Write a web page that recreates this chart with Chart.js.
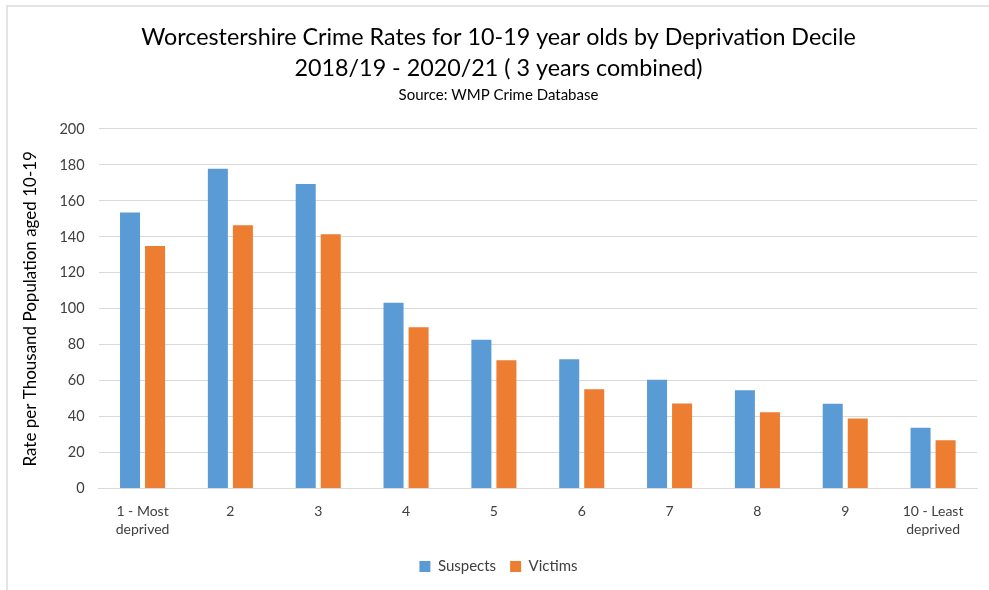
<!DOCTYPE html>
<html>
<head>
<meta charset="utf-8">
<script src="https://cdn.jsdelivr.net/npm/chart.js@4"></script>
<style>
  html, body { margin: 0; padding: 0; background: #fff; }
  #wrap { position: relative; width: 989px; height: 590px; }
  #frame {
    position: absolute; left: 6px; top: 5px; width: 983px; height: 585px;
    border-top: 2px solid #e3e3e3; border-left: 2px solid #e3e3e3;
    box-sizing: border-box; pointer-events: none;
  }
  canvas { position: absolute; left: 0; top: 0; }
</style>
</head>
<body>
<div id="wrap">
  <canvas id="canvas" width="989" height="590"></canvas>
  <div id="frame"></div>
</div>
<script>
const ctx = document.getElementById("canvas");

// deciles along the x axis
const categories = [
  ["1 - Most", "deprived"], "2", "3", "4", "5", "6", "7", "8", "9", ["10 - Least", "deprived"],
];

// rate per thousand
const suspects = [153.6, 177.9, 169.4, 103.3, 82.8, 72.0, 60.6, 54.7, 47.2, 33.9];
const victims = [134.9, 146.4, 141.4, 89.8, 71.4, 55.3, 47.3, 42.5, 39.0, 26.9];

const fontFamily = "Lato, 'Open Sans', sans-serif";
const textColor = "#404040";

const config = {
  type: "bar",
  data: {
    labels: categories,
    datasets: [
      {
        label: "Suspects",
        data: suspects,
        backgroundColor: "#5b9bd5",
      },
      {
        label: "Victims",
        data: victims,
        backgroundColor: "#ed7d31",
      },
    ],
  },
  options: {
    responsive: false,
    animation: false,
    layout: {
      padding: { left: 20, right: 12, top: 10, bottom: 6 },
    },
    datasets: {
      bar: {
        categoryPercentage: 0.57,
        barPercentage: 0.8,
      },
    },
    plugins: {
      title: {
        display: true,
        text: [
          "Worcestershire Crime Rates for 10-19 year olds by Deprivation Decile",
          "2018/19 - 2020/21 ( 3 years combined)",
        ],
        color: "#000",
        font: { family: fontFamily, size: 23.3, weight: "normal", lineHeight: 1.33 },
        padding: { top: 12, bottom: 0 },
      },
      subtitle: {
        display: true,
        text: "Source: WMP Crime Database",
        color: "#000",
        font: { family: fontFamily, size: 15 },
        padding: { top: 2, bottom: 25 },
      },
      legend: {
        position: "bottom",
        labels: {
          boxWidth: 11,
          boxHeight: 11,
          color: textColor,
          font: { family: fontFamily, size: 15 },
          padding: 14,
        },
      },
      tooltip: { enabled: false },
    },
    scales: {
      x: {
        grid: { display: false },
        border: { color: "#d9d9d9", width: 1 },
        ticks: {
          color: textColor,
          font: { family: fontFamily, size: 14, lineHeight: 1.3 },
          maxRotation: 0,
          autoSkip: false,
          padding: 6,
        },
      },
      y: {
        min: 0,
        max: 200,
        ticks: {
          stepSize: 20,
          color: textColor,
          font: { family: fontFamily, size: 14.5 },
          padding: 14,
        },
        grid: { color: "#d9d9d9", lineWidth: 1, drawTicks: false },
        border: { display: false },
        title: {
          display: true,
          text: "Rate per Thousand Population aged 10-19",
          color: "#000",
          font: { family: fontFamily, size: 17 },
          padding: { top: 0, bottom: 5 },
        },
      },
    },
  },
};

new Chart(ctx, config);
</script>
</body>
</html>
